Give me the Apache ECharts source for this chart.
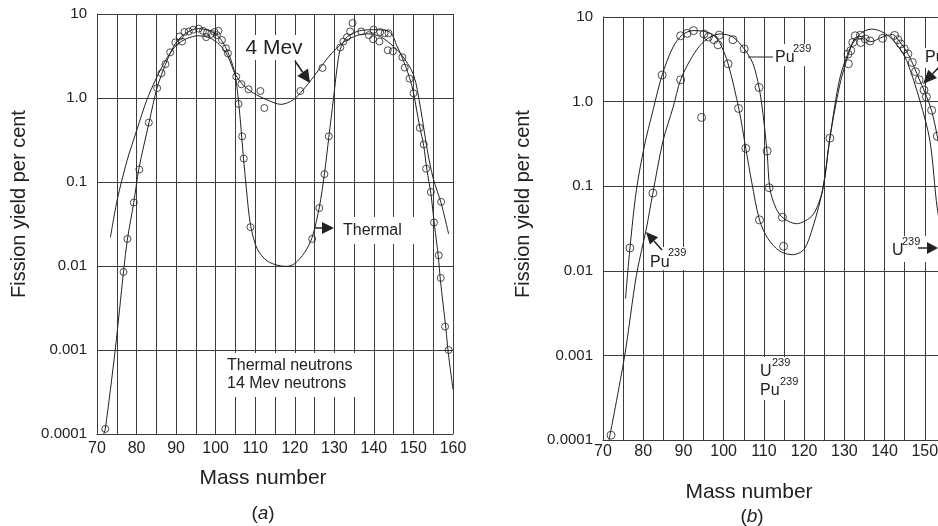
<!DOCTYPE html>
<html>
<head>
<meta charset="utf-8">
<script src="https://cdn.jsdelivr.net/npm/echarts/dist/echarts.min.js"></script>
<style>
  html, body { margin: 0; padding: 0; background: #fff; }
  #chart { width: 938px; height: 526px; }
</style>
</head>
<body>
<div id="chart"></div>
<script>
const FONT = '"Liberation Sans", Arial, sans-serif';
const INK = '#222';
const GRID = '#3c3c3c';

// tick labels on the log axis, from 10^-4 up to 10^1
const yieldTickLabels = ['0.0001', '0.001', '0.01', '0.1', '1.0', '10'];
const massMin = 70, massMax = 160;

// (a) fitted curves  [mass number, yield %]
const thermalCurveA = [
  [71.7, 0.0001], [72.1, 0.000115], [74.6, 0.001], [76.7, 0.0085], [77.7, 0.021], [79.3, 0.057],
  [80.6, 0.145], [83.2, 0.52], [85.2, 1.33], [87.3, 2.5], [89.5, 4.2], [92, 5.7], [95.5, 6.7],
  [98.5, 6.3], [101, 5.2], [103, 3.6], [104.7, 2.1], [105.5, 1.2], [106.3, 0.5], [107, 0.2],
  [107.8, 0.08], [108.8, 0.031], [110.5, 0.016], [113, 0.0115], [116, 0.0101], [118, 0.0099],
  [120, 0.0107], [122.5, 0.0145], [124.4, 0.022], [126.2, 0.05], [127.5, 0.125], [128.6, 0.34],
  [129.8, 1.0], [130.7, 2.3], [131.5, 3.8], [133, 5.2], [135, 6.0], [137, 6.4], [140, 6.5],
  [143.5, 6.3], [144.7, 5.6], [145.7, 4.3], [147.2, 3.0], [149, 1.75], [150, 1.15], [151.6, 0.45],
  [152.6, 0.27], [153.4, 0.14], [154.4, 0.073], [155.3, 0.031], [156.3, 0.0128], [156.8, 0.0069],
  [158.2, 0.0018], [158.8, 0.00093], [160, 0.00034]
];
const fastCurveA = [
  [73.4, 0.022], [75.1, 0.061], [77.6, 0.18], [80.1, 0.42], [82.6, 0.95], [85.2, 1.8], [87.7, 3.0],
  [90.2, 4.3], [92.7, 5.1], [95.5, 5.5], [98.5, 5.2], [101, 4.3], [103, 3.2], [105, 1.9], [107, 1.42],
  [109.5, 1.15], [113, 0.95], [116.5, 0.84], [119.6, 0.95], [122.1, 1.25], [124.8, 1.8], [127.3, 2.6],
  [129.8, 3.6], [133.2, 4.9], [136.6, 5.7], [139, 5.8], [141.5, 5.4], [143.5, 4.7], [146.7, 3.4],
  [150, 1.9], [151.8, 0.75], [153.5, 0.24], [155, 0.11], [157, 0.056], [158.9, 0.024]
];
// (a) measured points
const thermalPointsA = [
  [72.1, 0.000115], [76.7, 0.0085], [77.7, 0.021], [79.3, 0.057], [80.7, 0.141], [83.1, 0.51],
  [85.2, 1.31], [86.3, 1.97], [87.3, 2.53], [88.5, 3.5], [89.8, 4.6], [90.9, 5.4], [91.5, 4.7],
  [92.1, 6.1], [93.2, 6.2], [94.3, 6.5], [95.7, 6.7], [96.8, 6.3], [97.6, 5.3], [97.8, 6.0],
  [98.9, 5.8], [99.7, 6.1], [100.3, 5.6], [100.7, 6.3], [101.6, 4.9], [102.6, 3.9], [103.1, 3.4],
  [105.8, 0.85], [106.7, 0.35], [107.1, 0.19], [108.8, 0.029], [124.4, 0.021], [126.2, 0.049],
  [127.5, 0.124], [128.6, 0.35], [131.5, 4.0], [132.3, 4.7], [133.2, 5.3], [134.0, 6.2], [134.6, 7.8],
  [136.8, 6.2], [138.7, 5.6], [139.8, 5.0], [139.9, 6.5], [141.4, 4.7], [141.6, 6.1], [142.7, 5.9],
  [143.5, 3.7], [143.7, 5.9], [144.8, 3.6], [147.2, 3.06], [147.8, 2.3], [149.0, 1.7], [150.0, 1.14],
  [151.6, 0.44], [152.6, 0.28], [153.2, 0.144], [154.4, 0.076], [155.2, 0.033], [156.4, 0.0134],
  [156.9, 0.0072], [158.0, 0.0019], [158.9, 0.001]
];
const fastPointsA = [
  [105.2, 1.8], [106.5, 1.46], [108.3, 1.27], [111.3, 1.21], [112.3, 0.76], [121.4, 1.21],
  [127.0, 2.28], [157.0, 0.058]
];

// (b) fitted curves
const uCurveB = [
  [75.6, 0.0047], [76.7, 0.0186], [78.3, 0.09], [80.3, 0.30], [82.4, 0.78], [84.7, 2.06], [87.4, 4.4],
  [89.8, 6.2], [92.4, 6.9], [94.8, 6.8], [97.3, 6.2], [99, 5.0], [101.1, 2.8], [103.8, 0.81],
  [105.5, 0.28], [107, 0.11], [108.9, 0.040], [111, 0.024], [114, 0.017], [117.3, 0.0155],
  [120, 0.018], [122.2, 0.033], [124.7, 0.095], [126.4, 0.37], [128.9, 1.9], [131.6, 4.4],
  [134.1, 6.4], [136.8, 7.2], [139, 6.8], [141.3, 5.8], [143.5, 4.4], [145.5, 3.05], [148.8, 1.02],
  [151.3, 0.34], [153.1, 0.055], [155, 0.018], [157, 0.005]
];
const puCurveB = [
  [71.5, 0.0001], [75.4, 0.001], [78.3, 0.0088], [80.8, 0.032], [82.4, 0.083], [84.9, 0.34],
  [87.4, 0.85], [89.3, 1.81], [91.6, 3.05], [94.1, 4.6], [96.6, 5.8], [99.1, 6.3], [102.3, 5.8],
  [105.1, 4.2], [107.3, 2.8], [108.8, 1.47], [109.8, 0.7], [110.8, 0.25], [111.5, 0.093],
  [113, 0.055], [114.8, 0.042], [118.1, 0.036], [122.2, 0.046], [124.7, 0.095], [126.4, 0.37],
  [128.9, 1.6], [131, 3.6], [132.6, 5.6], [134.2, 5.9], [136.5, 5.1], [139.5, 5.8], [142, 6.2],
  [143.5, 5.3], [145.5, 3.9], [147, 2.8], [148.6, 1.85], [150, 1.3], [151.7, 0.78], [153.1, 0.39],
  [155, 0.12], [157, 0.03]
];
// (b) measured points
const pointsB = [
  [72.0, 0.000114], [76.7, 0.0186], [82.4, 0.083], [84.7, 2.06], [89.3, 1.81], [89.3, 6.0],
  [90.9, 6.4], [92.5, 6.9], [94.5, 0.65], [95.1, 6.3], [96.2, 5.8], [97.6, 5.4], [98.6, 4.7],
  [98.9, 6.1], [101.1, 2.8], [102.3, 5.4], [103.7, 0.83], [105.1, 4.2], [105.5, 0.28], [108.8, 1.47],
  [108.9, 0.040], [110.8, 0.26], [111.3, 0.096], [114.6, 0.043], [114.9, 0.0195], [126.4, 0.37],
  [130.9, 3.65], [131.0, 2.8], [131.6, 4.0], [132.1, 5.0], [132.7, 6.0], [134.0, 6.1], [134.1, 5.0],
  [135.2, 5.5], [136.4, 5.2], [139.5, 5.6], [142.5, 6.06], [143.3, 5.4], [144.0, 4.8], [144.9, 4.2],
  [145.8, 3.67], [146.9, 2.9], [147.7, 2.26], [148.6, 1.81], [149.8, 1.37], [150.4, 1.14],
  [151.7, 0.79], [153.1, 0.39]
];

function xAxis(gridIndex, margin) {
  return {
    type: 'value', gridIndex, min: massMin, max: massMax, interval: 5,
    axisLine: { show: true, lineStyle: { color: GRID, width: 1 } },
    axisTick: { show: false },
    axisLabel: {
      margin, color: INK, fontFamily: FONT, fontSize: 16,
      formatter: v => (v % 10 === 0 ? String(v) : '')
    },
    splitLine: { show: true, lineStyle: { color: GRID, width: 1 } }
  };
}
function yAxis(gridIndex) {
  return {
    type: 'log', logBase: 10, gridIndex, min: 0.0001, max: 10,
    axisLine: { show: true, lineStyle: { color: GRID, width: 1 } },
    axisTick: { show: false },
    axisLabel: {
      margin: 10, color: INK, fontFamily: FONT, fontSize: 15,
      formatter: v => yieldTickLabels[Math.round(Math.log10(v)) + 4]
    },
    splitLine: { show: true, lineStyle: { color: GRID, width: 1 } }
  };
}
function curve(name, idx, data) {
  return {
    name, type: 'line', xAxisIndex: idx, yAxisIndex: idx, data,
    smooth: 0.3, symbol: 'none', silent: true,
    lineStyle: { color: INK, width: 1 }, z: 3
  };
}
function dots(name, idx, data, size) {
  return {
    name, type: 'scatter', xAxisIndex: idx, yAxisIndex: idx, data,
    symbol: 'circle', symbolSize: size, silent: true,
    itemStyle: { color: 'rgba(0,0,0,0)', borderColor: INK, borderWidth: 1 }, z: 4
  };
}

// annotation helpers (pixel positions)
function txt(x, y, text, size, align) {
  return { type: 'text', x, y, z: 102, silent: true,
    style: { text, fill: INK, fontFamily: FONT, fontSize: size,
      textAlign: align || 'left', textVerticalAlign: 'middle' } };
}
function box(x, y, w, h) {
  return { type: 'rect', z: 100, silent: true, shape: { x, y, width: w, height: h },
    style: { fill: '#fff' } };
}
function arrow(x1, y1, x2, y2, len, half) {
  const dx = x2 - x1, dy = y2 - y1, d = Math.hypot(dx, dy);
  const ux = dx / d, uy = dy / d;
  const bx = x2 - ux * len, by = y2 - uy * len;
  return [
    { type: 'line', z: 103, silent: true, shape: { x1, y1, x2: bx, y2: by },
      style: { stroke: INK, lineWidth: 1.5 } },
    { type: 'polygon', z: 103, silent: true,
      shape: { points: [[x2, y2], [bx - uy * half, by + ux * half], [bx + uy * half, by - ux * half]] },
      style: { fill: INK } }
  ];
}

const graphics = [
  // panel (a)
  box(243, 35, 64, 25), txt(274, 48, '4 Mev', 21, 'center'),
  ...arrow(295, 61, 310, 83, 13, 6.5),
  box(336, 217, 80, 27), txt(343, 231, 'Thermal', 16),
  ...arrow(314, 228, 334, 228, 12, 6),
  box(224, 353, 131, 44), txt(227, 366, 'Thermal neutrons', 16), txt(227, 384, '14 Mev neutrons', 16),
  { type: 'text', x: 19, y: 204, rotation: Math.PI / 2, z: 102, silent: true,
    style: { text: 'Fission yield per cent', fill: INK, fontFamily: FONT, fontSize: 20,
      textAlign: 'center', textVerticalAlign: 'middle' } },
  txt(263, 478, 'Mass number', 21, 'center'),
  { type: 'text', x: 263, y: 514, z: 102, silent: true,
    style: { text: '({i|a})', fill: INK, fontFamily: FONT, fontSize: 19, textAlign: 'center',
      textVerticalAlign: 'middle',
      rich: { i: { fontStyle: 'italic', fontFamily: FONT, fontSize: 19, fill: INK } } } },

  // panel (b)
  { type: 'line', z: 103, silent: true, shape: { x1: 748, y1: 57, x2: 773, y2: 57 },
    style: { stroke: INK, lineWidth: 1 } },
  box(773, 44, 40, 22), txt(775, 58, 'Pu', 16), txt(793, 49, '239', 11),
  box(648, 247, 40, 23), txt(650, 263, 'Pu', 16), txt(668, 253, '239', 11),
  ...arrow(662, 250, 646, 232, 12, 5.5),
  box(757, 357, 43, 43), txt(760, 372, 'U', 16), txt(772, 363, '239', 11),
  txt(760, 391, 'Pu', 16), txt(780, 382, '239', 11),
  box(888, 236, 50, 26), txt(892, 251, 'U', 16), txt(902, 242, '239', 11),
  ...arrow(918, 248, 938, 248, 11, 6),
  box(924, 48, 14, 20), txt(925, 58, 'Pu', 16),
  ...arrow(940, 66, 923, 84, 14, 6),
  { type: 'text', x: 523, y: 204, rotation: Math.PI / 2, z: 102, silent: true,
    style: { text: 'Fission yield per cent', fill: INK, fontFamily: FONT, fontSize: 20,
      textAlign: 'center', textVerticalAlign: 'middle' } },
  txt(749, 492, 'Mass number', 21, 'center'),
  { type: 'text', x: 752, y: 517, z: 102, silent: true,
    style: { text: '({i|b})', fill: INK, fontFamily: FONT, fontSize: 19, textAlign: 'center',
      textVerticalAlign: 'middle',
      rich: { i: { fontStyle: 'italic', fontFamily: FONT, fontSize: 19, fill: INK } } } }
];

const chart = echarts.init(document.getElementById('chart'), null, { renderer: 'canvas' });
chart.setOption({
  animation: false,
  backgroundColor: '#fff',
  textStyle: { fontFamily: FONT },
  grid: [
    { left: 97, top: 14, width: 356, height: 420, outerBoundsMode: 'none' },
    { left: 603, top: 17, width: 362, height: 423, outerBoundsMode: 'none' }
  ],
  xAxis: [xAxis(0, 7), xAxis(1, 4)],
  yAxis: [yAxis(0), yAxis(1)],
  series: [
    curve('Thermal (a)', 0, thermalCurveA),
    curve('14 Mev (a)', 0, fastCurveA),
    dots('Thermal points (a)', 0, thermalPointsA, 7),
    dots('14 Mev points (a)', 0, fastPointsA, 7),
    curve('U239 (b)', 1, uCurveB),
    curve('Pu239 (b)', 1, puCurveB),
    dots('points (b)', 1, pointsB, 8)
  ],
  graphic: graphics
});
</script>
</body>
</html>
